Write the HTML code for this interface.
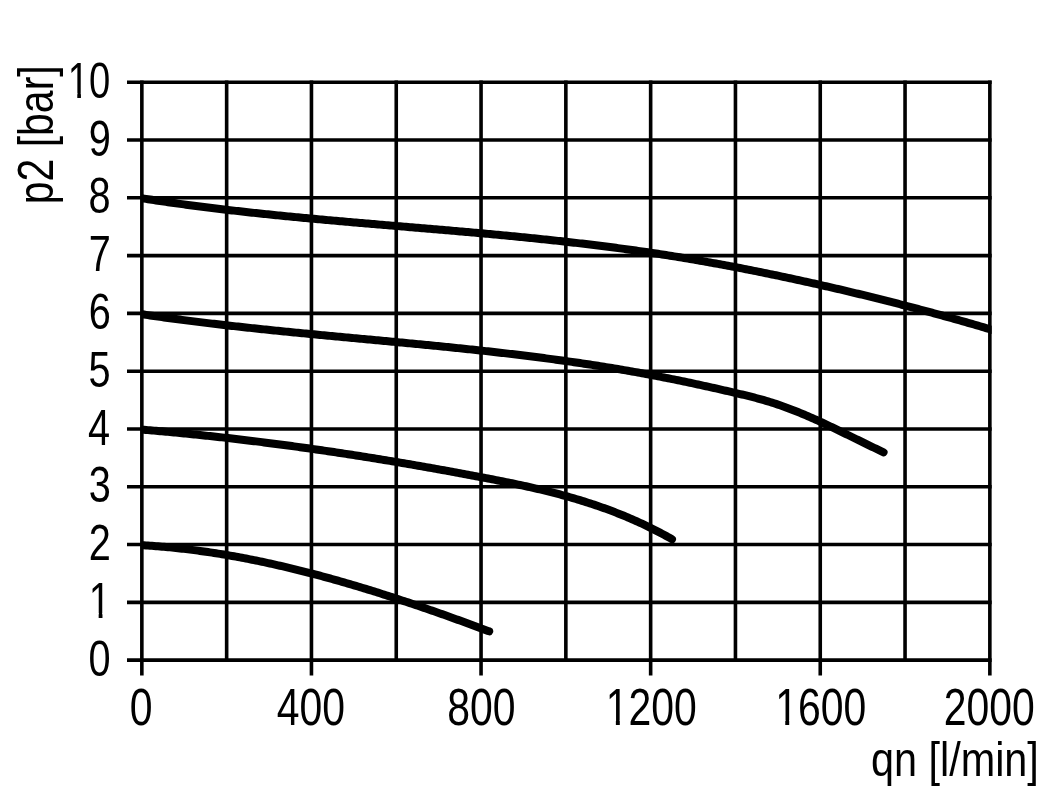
<!DOCTYPE html>
<html><head><meta charset="utf-8"><style>
html,body{margin:0;padding:0;background:#fff;overflow:hidden;}
svg{display:block;will-change:transform;}
text{font-family:"Liberation Sans",sans-serif;fill:#000;}
</style></head><body>
<svg width="1051" height="803" viewBox="0 0 1051 803">
<rect width="1051" height="803" fill="#fff"/>
<g stroke="#000" stroke-width="3.6" stroke-linecap="butt" fill="none">
<line x1="127" y1="660.15" x2="991.65" y2="660.15"/>
<line x1="127" y1="602.36" x2="991.65" y2="602.36"/>
<line x1="127" y1="544.56" x2="991.65" y2="544.56"/>
<line x1="127" y1="486.76" x2="991.65" y2="486.76"/>
<line x1="127" y1="428.97" x2="991.65" y2="428.97"/>
<line x1="127" y1="371.18" x2="991.65" y2="371.18"/>
<line x1="127" y1="313.38" x2="991.65" y2="313.38"/>
<line x1="127" y1="255.59" x2="991.65" y2="255.59"/>
<line x1="127" y1="197.79" x2="991.65" y2="197.79"/>
<line x1="127" y1="140.00" x2="991.65" y2="140.00"/>
<line x1="127" y1="82.20" x2="991.65" y2="82.20"/>
<line x1="141.85" y1="80.40" x2="141.85" y2="675.60"/>
<line x1="226.65" y1="80.40" x2="226.65" y2="660.15"/>
<line x1="311.45" y1="80.40" x2="311.45" y2="675.60"/>
<line x1="396.25" y1="80.40" x2="396.25" y2="660.15"/>
<line x1="481.05" y1="80.40" x2="481.05" y2="675.60"/>
<line x1="565.85" y1="80.40" x2="565.85" y2="660.15"/>
<line x1="650.65" y1="80.40" x2="650.65" y2="675.60"/>
<line x1="735.45" y1="80.40" x2="735.45" y2="660.15"/>
<line x1="820.25" y1="80.40" x2="820.25" y2="675.60"/>
<line x1="905.05" y1="80.40" x2="905.05" y2="660.15"/>
<line x1="989.85" y1="80.40" x2="989.85" y2="675.60"/>
</g>
<defs><clipPath id="cp"><rect x="142" y="0" width="849.65" height="803"/></clipPath></defs>
<g stroke="#000" stroke-width="8" stroke-linecap="round" stroke-linejoin="round" fill="none" clip-path="url(#cp)">
<path d="M142.00,198.28 L144.00,198.59 L146.00,198.90 L148.00,199.21 L150.00,199.52 L152.00,199.82 L154.00,200.12 L156.00,200.42 L158.00,200.72 L160.00,201.02 L162.00,201.31 L164.00,201.60 L166.00,201.89 L168.00,202.18 L170.00,202.46 L172.00,202.75 L174.00,203.03 L176.00,203.31 L178.00,203.59 L180.00,203.86 L182.00,204.14 L184.00,204.41 L186.00,204.68 L188.00,204.95 L190.00,205.21 L192.00,205.48 L194.00,205.74 L196.00,206.00 L198.00,206.26 L200.00,206.52 L202.00,206.77 L204.00,207.03 L206.00,207.28 L208.00,207.53 L210.00,207.78 L212.00,208.02 L214.00,208.27 L216.00,208.51 L218.00,208.76 L220.00,209.00 L222.00,209.24 L224.00,209.47 L226.00,209.71 L228.00,209.94 L230.00,210.18 L232.00,210.41 L234.00,210.64 L236.00,210.87 L238.00,211.09 L240.00,211.32 L242.00,211.54 L244.00,211.77 L246.00,211.99 L248.00,212.21 L250.00,212.43 L252.00,212.65 L254.00,212.86 L256.00,213.08 L258.00,213.29 L260.00,213.50 L262.00,213.71 L264.00,213.92 L266.00,214.13 L268.00,214.34 L270.00,214.55 L272.00,214.75 L274.00,214.96 L276.00,215.16 L278.00,215.36 L280.00,215.56 L282.00,215.76 L284.00,215.96 L286.00,216.16 L288.00,216.36 L290.00,216.55 L292.00,216.75 L294.00,216.94 L296.00,217.13 L298.00,217.33 L300.00,217.52 L302.00,217.71 L304.00,217.90 L306.00,218.08 L308.00,218.27 L310.00,218.46 L312.00,218.64 L314.00,218.83 L316.00,219.01 L318.00,219.20 L320.00,219.38 L322.00,219.56 L324.00,219.75 L326.00,219.93 L328.00,220.11 L330.00,220.29 L332.00,220.46 L334.00,220.64 L336.00,220.82 L338.00,221.00 L340.00,221.17 L342.00,221.35 L344.00,221.53 L346.00,221.70 L348.00,221.88 L350.00,222.05 L352.00,222.22 L354.00,222.40 L356.00,222.57 L358.00,222.74 L360.00,222.91 L362.00,223.09 L364.00,223.26 L366.00,223.43 L368.00,223.60 L370.00,223.77 L372.00,223.94 L374.00,224.11 L376.00,224.28 L378.00,224.45 L380.00,224.62 L382.00,224.78 L384.00,224.95 L386.00,225.12 L388.00,225.29 L390.00,225.46 L392.00,225.63 L394.00,225.79 L396.00,225.96 L398.00,226.13 L400.00,226.30 L402.00,226.47 L404.00,226.63 L406.00,226.80 L408.00,226.97 L410.00,227.14 L412.00,227.30 L414.00,227.47 L416.00,227.64 L418.00,227.81 L420.00,227.98 L422.00,228.14 L424.00,228.31 L426.00,228.48 L428.00,228.65 L430.00,228.82 L432.00,228.99 L434.00,229.16 L436.00,229.33 L438.00,229.50 L440.00,229.67 L442.00,229.84 L444.00,230.01 L446.00,230.18 L448.00,230.35 L450.00,230.53 L452.00,230.70 L454.00,230.87 L456.00,231.04 L458.00,231.22 L460.00,231.39 L462.00,231.57 L464.00,231.74 L466.00,231.92 L468.00,232.10 L470.00,232.27 L472.00,232.45 L474.00,232.63 L476.00,232.81 L478.00,232.99 L480.00,233.17 L482.00,233.35 L484.00,233.53 L486.00,233.71 L488.00,233.89 L490.00,234.08 L492.00,234.26 L494.00,234.44 L496.00,234.63 L498.00,234.82 L500.00,235.00 L502.00,235.19 L504.00,235.38 L506.00,235.57 L508.00,235.76 L510.00,235.95 L512.00,236.14 L514.00,236.34 L516.00,236.53 L518.00,236.73 L520.00,236.92 L522.00,237.12 L524.00,237.32 L526.00,237.52 L528.00,237.72 L530.00,237.92 L532.00,238.12 L534.00,238.33 L536.00,238.53 L538.00,238.74 L540.00,238.94 L542.00,239.15 L544.00,239.36 L546.00,239.57 L548.00,239.78 L550.00,240.00 L552.00,240.21 L554.00,240.43 L556.00,240.64 L558.00,240.86 L560.00,241.08 L562.00,241.30 L564.00,241.52 L566.00,241.75 L568.00,241.97 L570.00,242.20 L572.00,242.43 L574.00,242.66 L576.00,242.89 L578.00,243.12 L580.00,243.35 L582.00,243.59 L584.00,243.83 L586.00,244.06 L588.00,244.30 L590.00,244.54 L592.00,244.79 L594.00,245.03 L596.00,245.28 L598.00,245.53 L600.00,245.78 L602.00,246.03 L604.00,246.28 L606.00,246.54 L608.00,246.79 L610.00,247.05 L612.00,247.31 L614.00,247.57 L616.00,247.83 L618.00,248.10 L620.00,248.37 L622.00,248.64 L624.00,248.91 L626.00,249.18 L628.00,249.45 L630.00,249.73 L632.00,250.01 L634.00,250.29 L636.00,250.57 L638.00,250.86 L640.00,251.14 L642.00,251.43 L644.00,251.72 L646.00,252.02 L648.00,252.31 L650.00,252.61 L652.00,252.91 L654.00,253.21 L656.00,253.51 L658.00,253.82 L660.00,254.12 L662.00,254.43 L664.00,254.74 L666.00,255.06 L668.00,255.37 L670.00,255.69 L672.00,256.01 L674.00,256.33 L676.00,256.66 L678.00,256.98 L680.00,257.31 L682.00,257.64 L684.00,257.97 L686.00,258.31 L688.00,258.64 L690.00,258.98 L692.00,259.32 L694.00,259.66 L696.00,260.01 L698.00,260.35 L700.00,260.70 L702.00,261.05 L704.00,261.40 L706.00,261.75 L708.00,262.11 L710.00,262.47 L712.00,262.83 L714.00,263.19 L716.00,263.55 L718.00,263.92 L720.00,264.28 L722.00,264.65 L724.00,265.02 L726.00,265.39 L728.00,265.77 L730.00,266.15 L732.00,266.52 L734.00,266.90 L736.00,267.29 L738.00,267.67 L740.00,268.05 L742.00,268.44 L744.00,268.83 L746.00,269.22 L748.00,269.61 L750.00,270.01 L752.00,270.40 L754.00,270.80 L756.00,271.20 L758.00,271.60 L760.00,272.01 L762.00,272.41 L764.00,272.82 L766.00,273.23 L768.00,273.64 L770.00,274.05 L772.00,274.46 L774.00,274.88 L776.00,275.29 L778.00,275.71 L780.00,276.13 L782.00,276.55 L784.00,276.98 L786.00,277.40 L788.00,277.83 L790.00,278.26 L792.00,278.69 L794.00,279.12 L796.00,279.55 L798.00,279.99 L800.00,280.42 L802.00,280.86 L804.00,281.30 L806.00,281.74 L808.00,282.19 L810.00,282.63 L812.00,283.08 L814.00,283.52 L816.00,283.97 L818.00,284.42 L820.00,284.88 L822.00,285.33 L824.00,285.78 L826.00,286.24 L828.00,286.70 L830.00,287.16 L832.00,287.62 L834.00,288.08 L836.00,288.55 L838.00,289.01 L840.00,289.48 L842.00,289.95 L844.00,290.42 L846.00,290.89 L848.00,291.37 L850.00,291.84 L852.00,292.32 L854.00,292.80 L856.00,293.28 L858.00,293.76 L860.00,294.24 L862.00,294.73 L864.00,295.21 L866.00,295.70 L868.00,296.19 L870.00,296.68 L872.00,297.18 L874.00,297.67 L876.00,298.17 L878.00,298.67 L880.00,299.16 L882.00,299.67 L884.00,300.17 L886.00,300.67 L888.00,301.18 L890.00,301.69 L892.00,302.19 L894.00,302.71 L896.00,303.22 L898.00,303.73 L900.00,304.25 L902.00,304.77 L904.00,305.28 L906.00,305.81 L908.00,306.33 L910.00,306.85 L912.00,307.38 L914.00,307.91 L916.00,308.43 L918.00,308.97 L920.00,309.50 L922.00,310.03 L924.00,310.57 L926.00,311.11 L928.00,311.65 L930.00,312.19 L932.00,312.73 L934.00,313.27 L936.00,313.82 L938.00,314.37 L940.00,314.92 L942.00,315.47 L944.00,316.02 L946.00,316.58 L948.00,317.13 L950.00,317.69 L952.00,318.25 L954.00,318.81 L956.00,319.38 L958.00,319.94 L960.00,320.51 L962.00,321.08 L964.00,321.65 L966.00,322.22 L968.00,322.80 L970.00,323.37 L972.00,323.95 L974.00,324.53 L976.00,325.11 L978.00,325.69 L980.00,326.28 L982.00,326.86 L984.00,327.45 L986.00,328.04 L988.00,328.64 L990.00,329.23 L992.00,329.82 L994.00,330.42 L996.00,331.02 L998.00,331.62"/>
<path d="M142.00,314.27 L144.00,314.57 L146.00,314.87 L148.00,315.16 L150.00,315.45 L152.00,315.74 L154.00,316.03 L156.00,316.31 L158.00,316.60 L160.00,316.88 L162.00,317.16 L164.00,317.44 L166.00,317.71 L168.00,317.99 L170.00,318.26 L172.00,318.53 L174.00,318.80 L176.00,319.06 L178.00,319.33 L180.00,319.59 L182.00,319.86 L184.00,320.12 L186.00,320.37 L188.00,320.63 L190.00,320.89 L192.00,321.14 L194.00,321.39 L196.00,321.64 L198.00,321.89 L200.00,322.14 L202.00,322.39 L204.00,322.63 L206.00,322.87 L208.00,323.12 L210.00,323.36 L212.00,323.60 L214.00,323.83 L216.00,324.07 L218.00,324.30 L220.00,324.54 L222.00,324.77 L224.00,325.00 L226.00,325.23 L228.00,325.46 L230.00,325.69 L232.00,325.91 L234.00,326.14 L236.00,326.36 L238.00,326.58 L240.00,326.80 L242.00,327.02 L244.00,327.24 L246.00,327.46 L248.00,327.68 L250.00,327.89 L252.00,328.11 L254.00,328.32 L256.00,328.53 L258.00,328.75 L260.00,328.96 L262.00,329.17 L264.00,329.38 L266.00,329.58 L268.00,329.79 L270.00,330.00 L272.00,330.20 L274.00,330.41 L276.00,330.61 L278.00,330.81 L280.00,331.02 L282.00,331.22 L284.00,331.42 L286.00,331.62 L288.00,331.82 L290.00,332.01 L292.00,332.21 L294.00,332.41 L296.00,332.61 L298.00,332.80 L300.00,333.00 L302.00,333.19 L304.00,333.39 L306.00,333.58 L308.00,333.77 L310.00,333.97 L312.00,334.16 L314.00,334.35 L316.00,334.54 L318.00,334.73 L320.00,334.92 L322.00,335.11 L324.00,335.30 L326.00,335.49 L328.00,335.68 L330.00,335.87 L332.00,336.06 L334.00,336.24 L336.00,336.43 L338.00,336.62 L340.00,336.81 L342.00,336.99 L344.00,337.18 L346.00,337.37 L348.00,337.55 L350.00,337.74 L352.00,337.93 L354.00,338.11 L356.00,338.30 L358.00,338.49 L360.00,338.67 L362.00,338.86 L364.00,339.04 L366.00,339.23 L368.00,339.42 L370.00,339.60 L372.00,339.79 L374.00,339.97 L376.00,340.16 L378.00,340.35 L380.00,340.53 L382.00,340.72 L384.00,340.91 L386.00,341.09 L388.00,341.28 L390.00,341.47 L392.00,341.66 L394.00,341.84 L396.00,342.03 L398.00,342.22 L400.00,342.41 L402.00,342.60 L404.00,342.79 L406.00,342.98 L408.00,343.17 L410.00,343.36 L412.00,343.55 L414.00,343.74 L416.00,343.94 L418.00,344.13 L420.00,344.32 L422.00,344.52 L424.00,344.71 L426.00,344.91 L428.00,345.10 L430.00,345.30 L432.00,345.49 L434.00,345.69 L436.00,345.89 L438.00,346.09 L440.00,346.29 L442.00,346.49 L444.00,346.69 L446.00,346.89 L448.00,347.09 L450.00,347.30 L452.00,347.50 L454.00,347.71 L456.00,347.91 L458.00,348.12 L460.00,348.33 L462.00,348.53 L464.00,348.74 L466.00,348.95 L468.00,349.16 L470.00,349.38 L472.00,349.59 L474.00,349.80 L476.00,350.02 L478.00,350.23 L480.00,350.45 L482.00,350.67 L484.00,350.89 L486.00,351.11 L488.00,351.33 L490.00,351.55 L492.00,351.78 L494.00,352.00 L496.00,352.23 L498.00,352.46 L500.00,352.69 L502.00,352.92 L504.00,353.15 L506.00,353.38 L508.00,353.61 L510.00,353.85 L512.00,354.09 L514.00,354.32 L516.00,354.56 L518.00,354.80 L520.00,355.05 L522.00,355.29 L524.00,355.54 L526.00,355.78 L528.00,356.03 L530.00,356.28 L532.00,356.53 L534.00,356.78 L536.00,357.04 L538.00,357.30 L540.00,357.55 L542.00,357.81 L544.00,358.07 L546.00,358.34 L548.00,358.60 L550.00,358.87 L552.00,359.13 L554.00,359.40 L556.00,359.67 L558.00,359.95 L560.00,360.22 L562.00,360.50 L564.00,360.78 L566.00,361.06 L568.00,361.34 L570.00,361.62 L572.00,361.91 L574.00,362.20 L576.00,362.49 L578.00,362.78 L580.00,363.07 L582.00,363.37 L584.00,363.67 L586.00,363.97 L588.00,364.27 L590.00,364.57 L592.00,364.88 L594.00,365.19 L596.00,365.50 L598.00,365.81 L600.00,366.13 L602.00,366.44 L604.00,366.76 L606.00,367.08 L608.00,367.41 L610.00,367.73 L612.00,368.06 L614.00,368.39 L616.00,368.72 L618.00,369.06 L620.00,369.40 L622.00,369.74 L624.00,370.08 L626.00,370.42 L628.00,370.77 L630.00,371.12 L632.00,371.47 L634.00,371.83 L636.00,372.18 L638.00,372.54 L640.00,372.90 L642.00,373.27 L644.00,373.64 L646.00,374.01 L648.00,374.38 L650.00,374.75 L652.00,375.13 L654.00,375.51 L656.00,375.89 L658.00,376.28 L660.00,376.67 L662.00,377.06 L664.00,377.45 L666.00,377.85 L668.00,378.24 L670.00,378.64 L672.00,379.05 L674.00,379.45 L676.00,379.86 L678.00,380.27 L680.00,380.68 L682.00,381.10 L684.00,381.51 L686.00,381.93 L688.00,382.35 L690.00,382.78 L692.00,383.20 L694.00,383.63 L696.00,384.06 L698.00,384.49 L700.00,384.93 L702.00,385.36 L704.00,385.80 L706.00,386.24 L708.00,386.69 L710.00,387.13 L712.00,387.58 L714.00,388.02 L716.00,388.47 L718.00,388.93 L720.00,389.38 L722.00,389.84 L724.00,390.29 L726.00,390.75 L728.00,391.21 L730.00,391.68 L732.00,392.14 L734.00,392.61 L736.00,393.08 L738.00,393.55 L740.00,394.02 L742.00,394.50 L744.00,394.98 L746.00,395.46 L748.00,395.96 L750.00,396.46 L752.00,396.96 L754.00,397.48 L756.00,398.00 L758.00,398.54 L760.00,399.08 L762.00,399.64 L764.00,400.21 L766.00,400.79 L768.00,401.39 L770.00,402.00 L772.00,402.62 L774.00,403.27 L776.00,403.92 L778.00,404.59 L780.00,405.28 L782.00,405.98 L784.00,406.69 L786.00,407.42 L788.00,408.16 L790.00,408.91 L792.00,409.68 L794.00,410.46 L796.00,411.25 L798.00,412.05 L800.00,412.87 L802.00,413.69 L804.00,414.53 L806.00,415.37 L808.00,416.23 L810.00,417.10 L812.00,417.98 L814.00,418.86 L816.00,419.76 L818.00,420.67 L820.00,421.58 L822.00,422.50 L824.00,423.43 L826.00,424.37 L828.00,425.31 L830.00,426.27 L832.00,427.22 L834.00,428.18 L836.00,429.15 L838.00,430.12 L840.00,431.10 L842.00,432.08 L844.00,433.06 L846.00,434.04 L848.00,435.03 L850.00,436.01 L852.00,437.00 L854.00,437.99 L856.00,438.98 L858.00,439.96 L860.00,440.95 L862.00,441.93 L864.00,442.91 L866.00,443.89 L868.00,444.87 L870.00,445.84 L872.00,446.80 L874.00,447.76 L876.00,448.72 L878.00,449.67 L880.00,450.61 L882.00,451.55 L883.60,452.29"/>
<path d="M142.00,429.62 L144.00,429.78 L146.00,429.95 L148.00,430.12 L150.00,430.29 L152.00,430.46 L154.00,430.63 L156.00,430.80 L158.00,430.98 L160.00,431.16 L162.00,431.33 L164.00,431.52 L166.00,431.70 L168.00,431.88 L170.00,432.06 L172.00,432.25 L174.00,432.44 L176.00,432.63 L178.00,432.82 L180.00,433.01 L182.00,433.21 L184.00,433.40 L186.00,433.60 L188.00,433.80 L190.00,434.00 L192.00,434.20 L194.00,434.40 L196.00,434.60 L198.00,434.81 L200.00,435.02 L202.00,435.23 L204.00,435.44 L206.00,435.65 L208.00,435.86 L210.00,436.07 L212.00,436.29 L214.00,436.51 L216.00,436.73 L218.00,436.95 L220.00,437.17 L222.00,437.39 L224.00,437.62 L226.00,437.84 L228.00,438.07 L230.00,438.30 L232.00,438.53 L234.00,438.76 L236.00,438.99 L238.00,439.23 L240.00,439.47 L242.00,439.70 L244.00,439.94 L246.00,440.18 L248.00,440.42 L250.00,440.67 L252.00,440.91 L254.00,441.16 L256.00,441.40 L258.00,441.65 L260.00,441.90 L262.00,442.15 L264.00,442.41 L266.00,442.66 L268.00,442.91 L270.00,443.17 L272.00,443.43 L274.00,443.69 L276.00,443.95 L278.00,444.21 L280.00,444.47 L282.00,444.74 L284.00,445.01 L286.00,445.27 L288.00,445.54 L290.00,445.81 L292.00,446.08 L294.00,446.36 L296.00,446.63 L298.00,446.91 L300.00,447.18 L302.00,447.46 L304.00,447.74 L306.00,448.02 L308.00,448.30 L310.00,448.58 L312.00,448.87 L314.00,449.15 L316.00,449.44 L318.00,449.73 L320.00,450.02 L322.00,450.31 L324.00,450.60 L326.00,450.89 L328.00,451.19 L330.00,451.48 L332.00,451.78 L334.00,452.08 L336.00,452.38 L338.00,452.68 L340.00,452.98 L342.00,453.29 L344.00,453.59 L346.00,453.90 L348.00,454.20 L350.00,454.51 L352.00,454.82 L354.00,455.13 L356.00,455.44 L358.00,455.75 L360.00,456.07 L362.00,456.38 L364.00,456.70 L366.00,457.02 L368.00,457.34 L370.00,457.66 L372.00,457.98 L374.00,458.30 L376.00,458.62 L378.00,458.95 L380.00,459.28 L382.00,459.60 L384.00,459.93 L386.00,460.26 L388.00,460.59 L390.00,460.92 L392.00,461.26 L394.00,461.59 L396.00,461.92 L398.00,462.26 L400.00,462.60 L402.00,462.94 L404.00,463.28 L406.00,463.62 L408.00,463.96 L410.00,464.30 L412.00,464.65 L414.00,464.99 L416.00,465.34 L418.00,465.69 L420.00,466.03 L422.00,466.38 L424.00,466.73 L426.00,467.09 L428.00,467.44 L430.00,467.79 L432.00,468.15 L434.00,468.50 L436.00,468.86 L438.00,469.22 L440.00,469.58 L442.00,469.94 L444.00,470.30 L446.00,470.66 L448.00,471.03 L450.00,471.39 L452.00,471.76 L454.00,472.12 L456.00,472.49 L458.00,472.86 L460.00,473.23 L462.00,473.60 L464.00,473.97 L466.00,474.35 L468.00,474.72 L470.00,475.10 L472.00,475.47 L474.00,475.85 L476.00,476.23 L478.00,476.61 L480.00,476.99 L482.00,477.37 L484.00,477.75 L486.00,478.13 L488.00,478.52 L490.00,478.90 L492.00,479.29 L494.00,479.68 L496.00,480.07 L498.00,480.47 L500.00,480.86 L502.00,481.26 L504.00,481.66 L506.00,482.06 L508.00,482.47 L510.00,482.88 L512.00,483.29 L514.00,483.71 L516.00,484.13 L518.00,484.55 L520.00,484.97 L522.00,485.40 L524.00,485.84 L526.00,486.28 L528.00,486.72 L530.00,487.16 L532.00,487.62 L534.00,488.07 L536.00,488.53 L538.00,489.00 L540.00,489.47 L542.00,489.95 L544.00,490.43 L546.00,490.92 L548.00,491.41 L550.00,491.91 L552.00,492.41 L554.00,492.92 L556.00,493.44 L558.00,493.96 L560.00,494.49 L562.00,495.03 L564.00,495.58 L566.00,496.13 L568.00,496.69 L570.00,497.25 L572.00,497.82 L574.00,498.40 L576.00,498.99 L578.00,499.59 L580.00,500.19 L582.00,500.81 L584.00,501.43 L586.00,502.06 L588.00,502.70 L590.00,503.34 L592.00,504.00 L594.00,504.66 L596.00,505.34 L598.00,506.02 L600.00,506.71 L602.00,507.42 L604.00,508.13 L606.00,508.85 L608.00,509.58 L610.00,510.33 L612.00,511.08 L614.00,511.84 L616.00,512.62 L618.00,513.40 L620.00,514.20 L622.00,515.01 L624.00,515.82 L626.00,516.65 L628.00,517.50 L630.00,518.35 L632.00,519.21 L634.00,520.09 L636.00,520.98 L638.00,521.88 L640.00,522.80 L642.00,523.72 L644.00,524.66 L646.00,525.61 L648.00,526.58 L650.00,527.56 L652.00,528.55 L654.00,529.55 L656.00,530.57 L658.00,531.60 L660.00,532.65 L662.00,533.71 L664.00,534.78 L666.00,535.87 L668.00,536.98 L670.00,538.09 L672.00,539.23"/>
<path d="M142.00,545.21 L144.00,545.33 L146.00,545.45 L148.00,545.58 L150.00,545.72 L152.00,545.86 L154.00,546.01 L156.00,546.16 L158.00,546.32 L160.00,546.48 L162.00,546.65 L164.00,546.83 L166.00,547.01 L168.00,547.19 L170.00,547.39 L172.00,547.58 L174.00,547.79 L176.00,548.00 L178.00,548.21 L180.00,548.43 L182.00,548.65 L184.00,548.88 L186.00,549.12 L188.00,549.36 L190.00,549.61 L192.00,549.86 L194.00,550.11 L196.00,550.38 L198.00,550.64 L200.00,550.92 L202.00,551.19 L204.00,551.48 L206.00,551.76 L208.00,552.06 L210.00,552.35 L212.00,552.66 L214.00,552.96 L216.00,553.28 L218.00,553.59 L220.00,553.91 L222.00,554.24 L224.00,554.57 L226.00,554.91 L228.00,555.25 L230.00,555.60 L232.00,555.95 L234.00,556.31 L236.00,556.67 L238.00,557.03 L240.00,557.40 L242.00,557.78 L244.00,558.15 L246.00,558.54 L248.00,558.93 L250.00,559.32 L252.00,559.72 L254.00,560.12 L256.00,560.52 L258.00,560.93 L260.00,561.35 L262.00,561.77 L264.00,562.19 L266.00,562.62 L268.00,563.05 L270.00,563.49 L272.00,563.93 L274.00,564.37 L276.00,564.82 L278.00,565.28 L280.00,565.73 L282.00,566.20 L284.00,566.66 L286.00,567.13 L288.00,567.60 L290.00,568.08 L292.00,568.56 L294.00,569.05 L296.00,569.54 L298.00,570.03 L300.00,570.53 L302.00,571.03 L304.00,571.53 L306.00,572.04 L308.00,572.56 L310.00,573.07 L312.00,573.59 L314.00,574.12 L316.00,574.64 L318.00,575.17 L320.00,575.71 L322.00,576.25 L324.00,576.79 L326.00,577.33 L328.00,577.88 L330.00,578.43 L332.00,578.99 L334.00,579.55 L336.00,580.11 L338.00,580.68 L340.00,581.25 L342.00,581.82 L344.00,582.40 L346.00,582.98 L348.00,583.56 L350.00,584.14 L352.00,584.73 L354.00,585.33 L356.00,585.92 L358.00,586.52 L360.00,587.12 L362.00,587.73 L364.00,588.33 L366.00,588.94 L368.00,589.56 L370.00,590.17 L372.00,590.79 L374.00,591.42 L376.00,592.04 L378.00,592.67 L380.00,593.30 L382.00,593.94 L384.00,594.57 L386.00,595.21 L388.00,595.85 L390.00,596.50 L392.00,597.15 L394.00,597.80 L396.00,598.45 L398.00,599.11 L400.00,599.77 L402.00,600.43 L404.00,601.09 L406.00,601.76 L408.00,602.42 L410.00,603.09 L412.00,603.77 L414.00,604.44 L416.00,605.12 L418.00,605.80 L420.00,606.49 L422.00,607.17 L424.00,607.86 L426.00,608.55 L428.00,609.24 L430.00,609.93 L432.00,610.63 L434.00,611.33 L436.00,612.03 L438.00,612.73 L440.00,613.44 L442.00,614.14 L444.00,614.85 L446.00,615.56 L448.00,616.28 L450.00,616.99 L452.00,617.71 L454.00,618.43 L456.00,619.15 L458.00,619.87 L460.00,620.60 L462.00,621.32 L464.00,622.05 L466.00,622.78 L468.00,623.51 L470.00,624.24 L472.00,624.98 L474.00,625.71 L476.00,626.45 L478.00,627.19 L480.00,627.93 L482.00,628.68 L484.00,629.42 L486.00,630.17 L488.00,630.91 L489.20,631.36"/>
</g>
<g transform="translate(88.46,675.85) scale(0.8000,1)"><text font-size="49.60">0</text></g>
<g transform="translate(88.86,618.06) scale(0.8000,1)"><text font-size="49.60">1</text><rect x="1.98" y="-4.96" width="10.27" height="5.95" fill="#fff"/><rect x="17.01" y="-4.96" width="9.92" height="5.95" fill="#fff"/></g>
<g transform="translate(88.86,560.26) scale(0.8000,1)"><text font-size="49.60">2</text></g>
<g transform="translate(88.66,502.46) scale(0.8000,1)"><text font-size="49.60">3</text></g>
<g transform="translate(88.07,444.67) scale(0.8000,1)"><text font-size="49.60">4</text></g>
<g transform="translate(88.46,386.88) scale(0.8000,1)"><text font-size="49.60">5</text></g>
<g transform="translate(88.66,329.08) scale(0.8000,1)"><text font-size="49.60">6</text></g>
<g transform="translate(88.86,271.29) scale(0.8000,1)"><text font-size="49.60">7</text></g>
<g transform="translate(88.46,213.49) scale(0.8000,1)"><text font-size="49.60">8</text></g>
<g transform="translate(88.66,155.69) scale(0.8000,1)"><text font-size="49.60">9</text></g>
<g transform="translate(67.84,97.90) scale(0.7700,1)"><text font-size="49.60">10</text><rect x="1.98" y="-4.96" width="10.27" height="5.95" fill="#fff"/><rect x="17.01" y="-4.96" width="9.92" height="5.95" fill="#fff"/></g>
<g transform="translate(129.74,725.30) scale(0.7900,1)"><text font-size="51.80">0</text></g>
<g transform="translate(276.84,725.30) scale(0.7900,1)"><text font-size="51.80">400</text></g>
<g transform="translate(447.13,725.30) scale(0.7900,1)"><text font-size="51.80">800</text></g>
<g transform="translate(605.76,725.30) scale(0.7900,1)"><text font-size="51.80">1200</text><rect x="2.07" y="-5.18" width="10.72" height="6.22" fill="#fff"/><rect x="17.77" y="-5.18" width="10.36" height="6.22" fill="#fff"/></g>
<g transform="translate(775.16,725.30) scale(0.7900,1)"><text font-size="51.80">1600</text><rect x="2.07" y="-5.18" width="10.72" height="6.22" fill="#fff"/><rect x="17.77" y="-5.18" width="10.36" height="6.22" fill="#fff"/></g>
<g transform="translate(943.77,725.30) scale(0.7900,1)"><text font-size="51.80">2000</text></g>
<g transform="translate(870.90,776.00) scale(0.8450,1)"><text font-size="49.00">qn [l/min]</text></g>
<text transform="translate(53.2,204.26) rotate(-90) scale(0.8330,1)" font-size="49.20">p2 [bar]</text>
</svg>
</body></html>
